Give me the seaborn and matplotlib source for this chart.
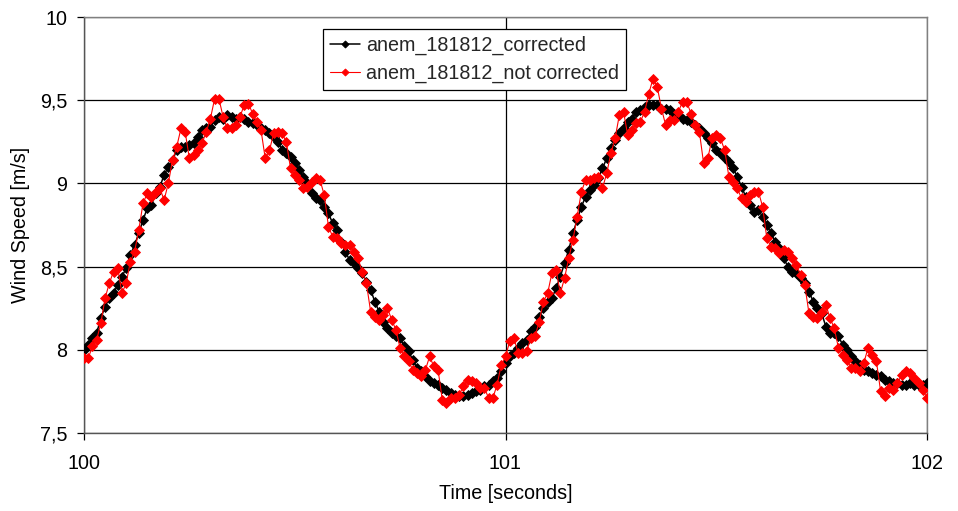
import numpy as np
import pandas as pd
import matplotlib
matplotlib.use("Agg")
import matplotlib.pyplot as plt
import seaborn as sns

# Anemometer 181812, 100 Hz samples between t = 100 s and t = 102 s
sample_rate_hz = 100
t_start = 100.0

speed_corrected = [
    8.00, 8.03, 8.07, 8.10, 8.19, 8.26, 8.31, 8.34, 8.39, 8.44,
    8.49, 8.57, 8.63, 8.70, 8.78, 8.85, 8.87, 8.94, 8.98, 9.05,
    9.10, 9.14, 9.20, 9.22, 9.22, 9.23, 9.24, 9.28, 9.32, 9.33,
    9.34, 9.38, 9.40, 9.39, 9.41, 9.40, 9.39, 9.40, 9.39, 9.37,
    9.36, 9.35, 9.33, 9.32, 9.30, 9.28, 9.25, 9.20, 9.18, 9.16,
    9.12, 9.08, 9.04, 9.00, 8.94, 8.91, 8.90, 8.86, 8.82, 8.76,
    8.72, 8.65, 8.59, 8.54, 8.52, 8.49, 8.46, 8.41, 8.36, 8.29,
    8.23, 8.17, 8.13, 8.10, 8.08, 8.07, 8.02, 7.99, 7.94, 7.89,
    7.87, 7.84, 7.81, 7.80, 7.79, 7.77, 7.76, 7.74, 7.73, 7.72,
    7.72, 7.73, 7.74, 7.75, 7.76, 7.78, 7.79, 7.81, 7.83, 7.87,
    7.92, 7.96, 7.98, 8.01, 8.04, 8.06, 8.11, 8.14, 8.20, 8.25,
    8.29, 8.31, 8.37, 8.44, 8.52, 8.60, 8.70, 8.78, 8.86, 8.92,
    8.96, 8.99, 9.03, 9.09, 9.15, 9.21, 9.26, 9.30, 9.33, 9.37,
    9.39, 9.43, 9.44, 9.46, 9.47, 9.47, 9.47, 9.45, 9.45, 9.44,
    9.42, 9.41, 9.39, 9.38, 9.37, 9.35, 9.33, 9.30, 9.27, 9.24,
    9.20, 9.18, 9.15, 9.13, 9.09, 9.04, 8.98, 8.92, 8.87, 8.83,
    8.84, 8.80, 8.75, 8.70, 8.65, 8.61, 8.55, 8.50, 8.47, 8.46,
    8.43, 8.40, 8.35, 8.29, 8.25, 8.22, 8.14, 8.10, 8.10, 8.08,
    8.03, 8.00, 7.96, 7.93, 7.91, 7.88, 7.87, 7.86, 7.85, 7.84,
    7.82, 7.81, 7.80, 7.80, 7.79, 7.79, 7.80, 7.79, 7.79, 7.79,
    7.80,
]

speed_not_corrected = [
    7.95, 7.95, 8.02, 8.06, 8.16, 8.31, 8.40, 8.47, 8.49, 8.34,
    8.40, 8.53, 8.59, 8.72, 8.88, 8.94, 8.92, 8.95, 8.97, 8.90,
    9.00, 9.14, 9.22, 9.33, 9.31, 9.15, 9.17, 9.20, 9.24, 9.31,
    9.39, 9.51, 9.51, 9.40, 9.33, 9.33, 9.35, 9.40, 9.47, 9.48,
    9.42, 9.37, 9.32, 9.15, 9.20, 9.30, 9.31, 9.30, 9.25, 9.09,
    9.05, 9.02, 8.97, 8.98, 9.01, 9.03, 9.02, 8.93, 8.74, 8.68,
    8.67, 8.64, 8.63, 8.63, 8.59, 8.55, 8.47, 8.40, 8.23, 8.20,
    8.18, 8.21, 8.25, 8.18, 8.12, 8.01, 7.96, 7.93, 7.88, 7.86,
    7.84, 7.88, 7.96, 7.90, 7.88, 7.70, 7.68, 7.71, 7.71, 7.73,
    7.78, 7.82, 7.81, 7.80, 7.77, 7.77, 7.71, 7.71, 7.79, 7.91,
    7.96, 8.05, 8.07, 7.98, 7.98, 7.99, 8.07, 8.08, 8.17, 8.29,
    8.34, 8.46, 8.48, 8.34, 8.43, 8.55, 8.66, 8.80, 8.95, 9.02,
    9.02, 9.03, 9.04, 8.97, 9.06, 9.18, 9.27, 9.41, 9.43, 9.29,
    9.32, 9.36, 9.37, 9.43, 9.54, 9.63, 9.58, 9.45, 9.35, 9.38,
    9.38, 9.43, 9.49, 9.49, 9.42, 9.35, 9.31, 9.12, 9.15, 9.27,
    9.29, 9.27, 9.20, 9.04, 9.01, 8.97, 8.91, 8.89, 8.93, 8.95,
    8.95, 8.86, 8.67, 8.62, 8.61, 8.58, 8.60, 8.59, 8.55, 8.51,
    8.45, 8.39, 8.22, 8.20, 8.19, 8.23, 8.27, 8.19, 8.13, 8.01,
    7.97, 7.94, 7.89, 7.89, 7.87, 7.92, 8.01, 7.97, 7.93, 7.75,
    7.72, 7.77, 7.76, 7.80, 7.85, 7.87, 7.86, 7.83, 7.80, 7.76,
    7.71,
]

series_names = ["anem_181812_corrected", "anem_181812_not corrected"]
x_ticks = [100, 101, 102]
x_tick_labels = ["100", "101", "102"]
y_ticks = [7.5, 8.0, 8.5, 9.0, 9.5, 10.0]
y_tick_labels = ["7,5", "8", "8,5", "9", "9,5", "10"]

time_s = t_start + np.arange(len(speed_corrected)) / sample_rate_hz
df = pd.DataFrame({
    "time": time_s,
    "corrected": speed_corrected,
    "not_corrected": speed_not_corrected,
})

sns.set_theme(style="white")
plt.rcParams["font.family"] = ["Liberation Sans", "DejaVu Sans"]
FS = 14.2

fig = plt.figure(figsize=(9.58, 5.11), dpi=100)
ax = fig.add_axes([84 / 958, 1 - 433 / 511, (927 - 84) / 958, (433 - 17) / 511])

sns.lineplot(data=df, x="time", y="corrected", ax=ax, color="black",
             linewidth=1.1, marker="D", markersize=4.8,
             markeredgecolor="black", markeredgewidth=0.6,
             label=series_names[0], zorder=3)
sns.lineplot(data=df, x="time", y="not_corrected", ax=ax, color="#ff0000",
             linewidth=0.8, marker="D", markersize=4.8,
             markeredgecolor="#ff0000", markeredgewidth=0.6,
             label=series_names[1], zorder=4)

ax.set_xlim(100, 102)
ax.set_ylim(7.5, 10)
ax.set_xticks(x_ticks)
ax.set_xticklabels(x_tick_labels)
ax.set_yticks(y_ticks)
ax.set_yticklabels(y_tick_labels)

ax.grid(True, axis="both", color="black", linewidth=0.9)
ax.set_axisbelow(True)

for side in ["top", "right"]:
    ax.spines[side].set_color("#808080")
    ax.spines[side].set_linewidth(1.0)
for side in ["left", "bottom"]:
    ax.spines[side].set_color("#555555")
    ax.spines[side].set_linewidth(1.0)
    ax.spines[side].set_visible(True)

ax.tick_params(axis="both", which="major", direction="out", length=5,
               width=0.9, color="black", labelsize=FS, labelcolor="black",
               left=True, bottom=True)
ax.tick_params(axis="x", pad=10)
ax.tick_params(axis="y", pad=7)

ax.set_xlabel("Time [seconds]", fontsize=FS, labelpad=8, color="black")
ax.set_ylabel("Wind Speed [m/s]", fontsize=FS, labelpad=7, color="black")

leg = ax.legend(loc="upper left", bbox_to_anchor=(0.284, 0.971),
                borderaxespad=0, fontsize=FS, frameon=True, fancybox=False,
                framealpha=1, edgecolor="black", handlelength=1.5,
                handletextpad=0.3, labelspacing=0.42, borderpad=0.35,
                markerscale=0.75)
leg.get_frame().set_linewidth(0.9)

fig.savefig("out.png", dpi=100)
